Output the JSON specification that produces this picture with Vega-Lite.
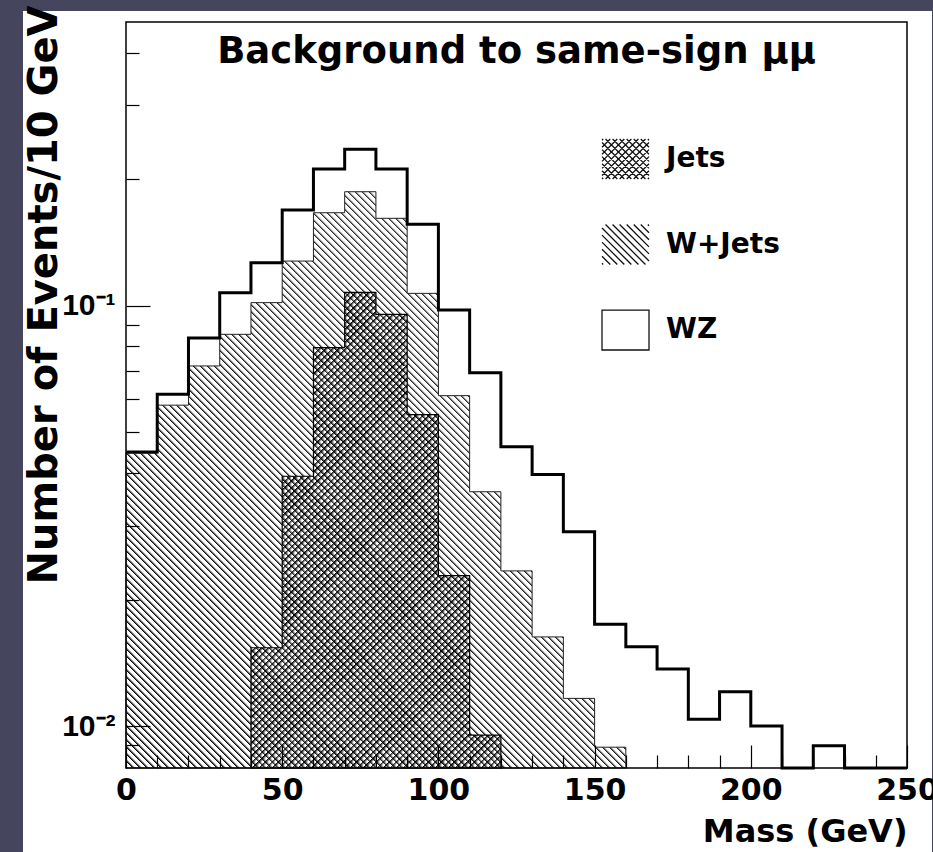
{
"$schema": "https://vega.github.io/schema/vega-lite/v6.json",
"width": 909, "height": 841,
"autosize": {"type": "none"},
"padding": {"left": 23, "top": 11, "right": 1, "bottom": 0},
"background": "#45455d",
"view": {"fill": "#ffffff", "stroke": null},
"config": {"font": "DejaVu Sans"},
"title": {"text": "Background to same-sign μμ", "font": "DejaVu Sans", "fontSize": 37, "fontWeight": "bold", "color": "#000000", "anchor": "middle", "frame": "group", "dx": 39, "offset": -95, "baseline": "alphabetic"},
"resolve": {"axis": {"x": "independent"}},
"data": {"values": [
{"lo":0,"hi":10,"jets":null,"jets_wjets":0.0446,"total":0.0449},
{"lo":10,"hi":20,"jets":null,"jets_wjets":0.058,"total":0.0616},
{"lo":20,"hi":30,"jets":null,"jets_wjets":0.0719,"total":0.0838},
{"lo":30,"hi":40,"jets":null,"jets_wjets":0.0855,"total":0.1074},
{"lo":40,"hi":50,"jets":0.01536,"jets_wjets":0.1017,"total":0.1265},
{"lo":50,"hi":60,"jets":0.0393,"jets_wjets":0.1277,"total":0.1689},
{"lo":60,"hi":70,"jets":0.0795,"jets_wjets":0.1664,"total":0.2115},
{"lo":70,"hi":80,"jets":0.1076,"jets_wjets":0.1867,"total":0.2356},
{"lo":80,"hi":90,"jets":0.0954,"jets_wjets":0.1614,"total":0.2115},
{"lo":90,"hi":100,"jets":0.0551,"jets_wjets":0.107,"total":0.1562},
{"lo":100,"hi":110,"jets":0.0228,"jets_wjets":0.0611,"total":0.0977},
{"lo":110,"hi":120,"jets":0.00952,"jets_wjets":0.0361,"total":0.0693},
{"lo":120,"hi":130,"jets":null,"jets_wjets":0.0234,"total":0.0462},
{"lo":130,"hi":140,"jets":null,"jets_wjets":0.0163,"total":0.0397},
{"lo":140,"hi":150,"jets":null,"jets_wjets":0.01164,"total":0.029},
{"lo":150,"hi":160,"jets":null,"jets_wjets":0.00891,"total":0.01746},
{"lo":160,"hi":170,"jets":null,"jets_wjets":null,"total":0.01544},
{"lo":170,"hi":180,"jets":null,"jets_wjets":null,"total":0.01367},
{"lo":180,"hi":190,"jets":null,"jets_wjets":null,"total":0.01039},
{"lo":190,"hi":200,"jets":null,"jets_wjets":null,"total":0.01207},
{"lo":200,"hi":210,"jets":null,"jets_wjets":null,"total":0.01},
{"lo":210,"hi":220,"jets":null,"jets_wjets":null,"total":0},
{"lo":220,"hi":230,"jets":null,"jets_wjets":null,"total":0.00898},
{"lo":230,"hi":240,"jets":null,"jets_wjets":null,"total":0},
{"lo":240,"hi":250,"jets":null,"jets_wjets":null,"total":0}
]},
"layer": [
{
"transform": [{"filter": "datum.jets_wjets != null"}, {"fold": ["lo", "hi"], "as": ["edge", "mass"]}],
"mark": {"type": "area", "interpolate": "linear", "stroke": "#222222", "strokeWidth": 1, "fill": {"gradient": "linear", "x1": 0, "y1": 1, "x2": 0.9243, "y2": -0.0656, "stops": [
{"offset":0,"color":"#000"},{"offset":0.0028,"color":"#fff"},{"offset":0.0065,"color":"#fff"},
{"offset":0.0065,"color":"#000"},{"offset":0.0093,"color":"#fff"},{"offset":0.013,"color":"#fff"},
{"offset":0.013,"color":"#000"},{"offset":0.0158,"color":"#fff"},{"offset":0.0195,"color":"#fff"},
{"offset":0.0195,"color":"#000"},{"offset":0.0223,"color":"#fff"},{"offset":0.026,"color":"#fff"},
{"offset":0.026,"color":"#000"},{"offset":0.0288,"color":"#fff"},{"offset":0.0325,"color":"#fff"},
{"offset":0.0325,"color":"#000"},{"offset":0.0353,"color":"#fff"},{"offset":0.039,"color":"#fff"},
{"offset":0.039,"color":"#000"},{"offset":0.0418,"color":"#fff"},{"offset":0.0455,"color":"#fff"},
{"offset":0.0455,"color":"#000"},{"offset":0.0483,"color":"#fff"},{"offset":0.052,"color":"#fff"},
{"offset":0.052,"color":"#000"},{"offset":0.0548,"color":"#fff"},{"offset":0.0585,"color":"#fff"},
{"offset":0.0585,"color":"#000"},{"offset":0.0613,"color":"#fff"},{"offset":0.065,"color":"#fff"},
{"offset":0.065,"color":"#000"},{"offset":0.0678,"color":"#fff"},{"offset":0.0715,"color":"#fff"},
{"offset":0.0715,"color":"#000"},{"offset":0.0743,"color":"#fff"},{"offset":0.078,"color":"#fff"},
{"offset":0.078,"color":"#000"},{"offset":0.0808,"color":"#fff"},{"offset":0.0845,"color":"#fff"},
{"offset":0.0845,"color":"#000"},{"offset":0.0873,"color":"#fff"},{"offset":0.091,"color":"#fff"},
{"offset":0.091,"color":"#000"},{"offset":0.0938,"color":"#fff"},{"offset":0.0975,"color":"#fff"},
{"offset":0.0975,"color":"#000"},{"offset":0.1003,"color":"#fff"},{"offset":0.104,"color":"#fff"},
{"offset":0.104,"color":"#000"},{"offset":0.1068,"color":"#fff"},{"offset":0.1105,"color":"#fff"},
{"offset":0.1105,"color":"#000"},{"offset":0.1133,"color":"#fff"},{"offset":0.117,"color":"#fff"},
{"offset":0.117,"color":"#000"},{"offset":0.1198,"color":"#fff"},{"offset":0.1235,"color":"#fff"},
{"offset":0.1235,"color":"#000"},{"offset":0.1263,"color":"#fff"},{"offset":0.13,"color":"#fff"},
{"offset":0.13,"color":"#000"},{"offset":0.1328,"color":"#fff"},{"offset":0.1365,"color":"#fff"},
{"offset":0.1365,"color":"#000"},{"offset":0.1393,"color":"#fff"},{"offset":0.143,"color":"#fff"},
{"offset":0.143,"color":"#000"},{"offset":0.1458,"color":"#fff"},{"offset":0.1495,"color":"#fff"},
{"offset":0.1495,"color":"#000"},{"offset":0.1523,"color":"#fff"},{"offset":0.156,"color":"#fff"},
{"offset":0.156,"color":"#000"},{"offset":0.1588,"color":"#fff"},{"offset":0.1625,"color":"#fff"},
{"offset":0.1625,"color":"#000"},{"offset":0.1653,"color":"#fff"},{"offset":0.169,"color":"#fff"},
{"offset":0.169,"color":"#000"},{"offset":0.1718,"color":"#fff"},{"offset":0.1755,"color":"#fff"},
{"offset":0.1755,"color":"#000"},{"offset":0.1783,"color":"#fff"},{"offset":0.182,"color":"#fff"},
{"offset":0.182,"color":"#000"},{"offset":0.1848,"color":"#fff"},{"offset":0.1885,"color":"#fff"},
{"offset":0.1885,"color":"#000"},{"offset":0.1913,"color":"#fff"},{"offset":0.195,"color":"#fff"},
{"offset":0.195,"color":"#000"},{"offset":0.1978,"color":"#fff"},{"offset":0.2015,"color":"#fff"},
{"offset":0.2015,"color":"#000"},{"offset":0.2043,"color":"#fff"},{"offset":0.208,"color":"#fff"},
{"offset":0.208,"color":"#000"},{"offset":0.2108,"color":"#fff"},{"offset":0.2145,"color":"#fff"},
{"offset":0.2145,"color":"#000"},{"offset":0.2173,"color":"#fff"},{"offset":0.221,"color":"#fff"},
{"offset":0.221,"color":"#000"},{"offset":0.2238,"color":"#fff"},{"offset":0.2275,"color":"#fff"},
{"offset":0.2275,"color":"#000"},{"offset":0.2303,"color":"#fff"},{"offset":0.234,"color":"#fff"},
{"offset":0.234,"color":"#000"},{"offset":0.2368,"color":"#fff"},{"offset":0.2405,"color":"#fff"},
{"offset":0.2405,"color":"#000"},{"offset":0.2433,"color":"#fff"},{"offset":0.247,"color":"#fff"},
{"offset":0.247,"color":"#000"},{"offset":0.2498,"color":"#fff"},{"offset":0.2535,"color":"#fff"},
{"offset":0.2535,"color":"#000"},{"offset":0.2563,"color":"#fff"},{"offset":0.26,"color":"#fff"},
{"offset":0.26,"color":"#000"},{"offset":0.2628,"color":"#fff"},{"offset":0.2665,"color":"#fff"},
{"offset":0.2665,"color":"#000"},{"offset":0.2693,"color":"#fff"},{"offset":0.273,"color":"#fff"},
{"offset":0.273,"color":"#000"},{"offset":0.2758,"color":"#fff"},{"offset":0.2795,"color":"#fff"},
{"offset":0.2795,"color":"#000"},{"offset":0.2823,"color":"#fff"},{"offset":0.286,"color":"#fff"},
{"offset":0.286,"color":"#000"},{"offset":0.2888,"color":"#fff"},{"offset":0.2925,"color":"#fff"},
{"offset":0.2925,"color":"#000"},{"offset":0.2953,"color":"#fff"},{"offset":0.299,"color":"#fff"},
{"offset":0.299,"color":"#000"},{"offset":0.3018,"color":"#fff"},{"offset":0.3055,"color":"#fff"},
{"offset":0.3055,"color":"#000"},{"offset":0.3083,"color":"#fff"},{"offset":0.312,"color":"#fff"},
{"offset":0.312,"color":"#000"},{"offset":0.3148,"color":"#fff"},{"offset":0.3185,"color":"#fff"},
{"offset":0.3185,"color":"#000"},{"offset":0.3213,"color":"#fff"},{"offset":0.325,"color":"#fff"},
{"offset":0.325,"color":"#000"},{"offset":0.3278,"color":"#fff"},{"offset":0.3315,"color":"#fff"},
{"offset":0.3315,"color":"#000"},{"offset":0.3343,"color":"#fff"},{"offset":0.338,"color":"#fff"},
{"offset":0.338,"color":"#000"},{"offset":0.3408,"color":"#fff"},{"offset":0.3445,"color":"#fff"},
{"offset":0.3445,"color":"#000"},{"offset":0.3473,"color":"#fff"},{"offset":0.351,"color":"#fff"},
{"offset":0.351,"color":"#000"},{"offset":0.3538,"color":"#fff"},{"offset":0.3575,"color":"#fff"},
{"offset":0.3575,"color":"#000"},{"offset":0.3603,"color":"#fff"},{"offset":0.364,"color":"#fff"},
{"offset":0.364,"color":"#000"},{"offset":0.3668,"color":"#fff"},{"offset":0.3705,"color":"#fff"},
{"offset":0.3705,"color":"#000"},{"offset":0.3733,"color":"#fff"},{"offset":0.377,"color":"#fff"},
{"offset":0.377,"color":"#000"},{"offset":0.3798,"color":"#fff"},{"offset":0.3835,"color":"#fff"},
{"offset":0.3835,"color":"#000"},{"offset":0.3863,"color":"#fff"},{"offset":0.39,"color":"#fff"},
{"offset":0.39,"color":"#000"},{"offset":0.3928,"color":"#fff"},{"offset":0.3965,"color":"#fff"},
{"offset":0.3965,"color":"#000"},{"offset":0.3993,"color":"#fff"},{"offset":0.403,"color":"#fff"},
{"offset":0.403,"color":"#000"},{"offset":0.4058,"color":"#fff"},{"offset":0.4095,"color":"#fff"},
{"offset":0.4095,"color":"#000"},{"offset":0.4123,"color":"#fff"},{"offset":0.416,"color":"#fff"},
{"offset":0.416,"color":"#000"},{"offset":0.4188,"color":"#fff"},{"offset":0.4225,"color":"#fff"},
{"offset":0.4225,"color":"#000"},{"offset":0.4253,"color":"#fff"},{"offset":0.429,"color":"#fff"},
{"offset":0.429,"color":"#000"},{"offset":0.4318,"color":"#fff"},{"offset":0.4355,"color":"#fff"},
{"offset":0.4355,"color":"#000"},{"offset":0.4383,"color":"#fff"},{"offset":0.442,"color":"#fff"},
{"offset":0.442,"color":"#000"},{"offset":0.4448,"color":"#fff"},{"offset":0.4485,"color":"#fff"},
{"offset":0.4485,"color":"#000"},{"offset":0.4513,"color":"#fff"},{"offset":0.455,"color":"#fff"},
{"offset":0.455,"color":"#000"},{"offset":0.4578,"color":"#fff"},{"offset":0.4615,"color":"#fff"},
{"offset":0.4615,"color":"#000"},{"offset":0.4643,"color":"#fff"},{"offset":0.468,"color":"#fff"},
{"offset":0.468,"color":"#000"},{"offset":0.4708,"color":"#fff"},{"offset":0.4745,"color":"#fff"},
{"offset":0.4745,"color":"#000"},{"offset":0.4773,"color":"#fff"},{"offset":0.481,"color":"#fff"},
{"offset":0.481,"color":"#000"},{"offset":0.4838,"color":"#fff"},{"offset":0.4875,"color":"#fff"},
{"offset":0.4875,"color":"#000"},{"offset":0.4903,"color":"#fff"},{"offset":0.494,"color":"#fff"},
{"offset":0.494,"color":"#000"},{"offset":0.4968,"color":"#fff"},{"offset":0.5005,"color":"#fff"},
{"offset":0.5005,"color":"#000"},{"offset":0.5033,"color":"#fff"},{"offset":0.507,"color":"#fff"},
{"offset":0.507,"color":"#000"},{"offset":0.5098,"color":"#fff"},{"offset":0.5135,"color":"#fff"},
{"offset":0.5135,"color":"#000"},{"offset":0.5163,"color":"#fff"},{"offset":0.52,"color":"#fff"},
{"offset":0.52,"color":"#000"},{"offset":0.5228,"color":"#fff"},{"offset":0.5265,"color":"#fff"},
{"offset":0.5265,"color":"#000"},{"offset":0.5293,"color":"#fff"},{"offset":0.533,"color":"#fff"},
{"offset":0.533,"color":"#000"},{"offset":0.5358,"color":"#fff"},{"offset":0.5395,"color":"#fff"},
{"offset":0.5395,"color":"#000"},{"offset":0.5423,"color":"#fff"},{"offset":0.546,"color":"#fff"},
{"offset":0.546,"color":"#000"},{"offset":0.5488,"color":"#fff"},{"offset":0.5525,"color":"#fff"},
{"offset":0.5525,"color":"#000"},{"offset":0.5553,"color":"#fff"},{"offset":0.559,"color":"#fff"},
{"offset":0.559,"color":"#000"},{"offset":0.5618,"color":"#fff"},{"offset":0.5655,"color":"#fff"},
{"offset":0.5655,"color":"#000"},{"offset":0.5683,"color":"#fff"},{"offset":0.572,"color":"#fff"},
{"offset":0.572,"color":"#000"},{"offset":0.5748,"color":"#fff"},{"offset":0.5785,"color":"#fff"},
{"offset":0.5785,"color":"#000"},{"offset":0.5813,"color":"#fff"},{"offset":0.585,"color":"#fff"},
{"offset":0.585,"color":"#000"},{"offset":0.5878,"color":"#fff"},{"offset":0.5915,"color":"#fff"},
{"offset":0.5915,"color":"#000"},{"offset":0.5943,"color":"#fff"},{"offset":0.598,"color":"#fff"},
{"offset":0.598,"color":"#000"},{"offset":0.6008,"color":"#fff"},{"offset":0.6045,"color":"#fff"},
{"offset":0.6045,"color":"#000"},{"offset":0.6073,"color":"#fff"},{"offset":0.611,"color":"#fff"},
{"offset":0.611,"color":"#000"},{"offset":0.6138,"color":"#fff"},{"offset":0.6175,"color":"#fff"},
{"offset":0.6175,"color":"#000"},{"offset":0.6203,"color":"#fff"},{"offset":0.624,"color":"#fff"},
{"offset":0.624,"color":"#000"},{"offset":0.6268,"color":"#fff"},{"offset":0.6305,"color":"#fff"},
{"offset":0.6305,"color":"#000"},{"offset":0.6333,"color":"#fff"},{"offset":0.637,"color":"#fff"},
{"offset":0.637,"color":"#000"},{"offset":0.6398,"color":"#fff"},{"offset":0.6435,"color":"#fff"},
{"offset":0.6435,"color":"#000"},{"offset":0.6463,"color":"#fff"},{"offset":0.65,"color":"#fff"},
{"offset":0.65,"color":"#000"},{"offset":0.6528,"color":"#fff"},{"offset":0.6565,"color":"#fff"},
{"offset":0.6565,"color":"#000"},{"offset":0.6593,"color":"#fff"},{"offset":0.663,"color":"#fff"},
{"offset":0.663,"color":"#000"},{"offset":0.6658,"color":"#fff"},{"offset":0.6695,"color":"#fff"},
{"offset":0.6695,"color":"#000"},{"offset":0.6723,"color":"#fff"},{"offset":0.676,"color":"#fff"},
{"offset":0.676,"color":"#000"},{"offset":0.6788,"color":"#fff"},{"offset":0.6825,"color":"#fff"},
{"offset":0.6825,"color":"#000"},{"offset":0.6853,"color":"#fff"},{"offset":0.689,"color":"#fff"},
{"offset":0.689,"color":"#000"},{"offset":0.6918,"color":"#fff"},{"offset":0.6955,"color":"#fff"},
{"offset":0.6955,"color":"#000"},{"offset":0.6983,"color":"#fff"},{"offset":0.702,"color":"#fff"},
{"offset":0.702,"color":"#000"},{"offset":0.7048,"color":"#fff"},{"offset":0.7085,"color":"#fff"},
{"offset":0.7085,"color":"#000"},{"offset":0.7113,"color":"#fff"},{"offset":0.715,"color":"#fff"},
{"offset":0.715,"color":"#000"},{"offset":0.7178,"color":"#fff"},{"offset":0.7215,"color":"#fff"},
{"offset":0.7215,"color":"#000"},{"offset":0.7243,"color":"#fff"},{"offset":0.728,"color":"#fff"},
{"offset":0.728,"color":"#000"},{"offset":0.7308,"color":"#fff"},{"offset":0.7345,"color":"#fff"},
{"offset":0.7345,"color":"#000"},{"offset":0.7373,"color":"#fff"},{"offset":0.741,"color":"#fff"},
{"offset":0.741,"color":"#000"},{"offset":0.7438,"color":"#fff"},{"offset":0.7475,"color":"#fff"},
{"offset":0.7475,"color":"#000"},{"offset":0.7503,"color":"#fff"},{"offset":0.754,"color":"#fff"},
{"offset":0.754,"color":"#000"},{"offset":0.7568,"color":"#fff"},{"offset":0.7605,"color":"#fff"},
{"offset":0.7605,"color":"#000"},{"offset":0.7633,"color":"#fff"},{"offset":0.767,"color":"#fff"},
{"offset":0.767,"color":"#000"},{"offset":0.7698,"color":"#fff"},{"offset":0.7735,"color":"#fff"},
{"offset":0.7735,"color":"#000"},{"offset":0.7763,"color":"#fff"},{"offset":0.78,"color":"#fff"},
{"offset":0.78,"color":"#000"},{"offset":0.7828,"color":"#fff"},{"offset":0.7865,"color":"#fff"},
{"offset":0.7865,"color":"#000"},{"offset":0.7893,"color":"#fff"},{"offset":0.793,"color":"#fff"},
{"offset":0.793,"color":"#000"},{"offset":0.7958,"color":"#fff"},{"offset":0.7995,"color":"#fff"},
{"offset":0.7995,"color":"#000"},{"offset":0.8023,"color":"#fff"},{"offset":0.806,"color":"#fff"},
{"offset":0.806,"color":"#000"},{"offset":0.8088,"color":"#fff"},{"offset":0.8125,"color":"#fff"},
{"offset":0.8125,"color":"#000"},{"offset":0.8153,"color":"#fff"},{"offset":0.819,"color":"#fff"},
{"offset":0.819,"color":"#000"},{"offset":0.8218,"color":"#fff"},{"offset":0.8255,"color":"#fff"},
{"offset":0.8255,"color":"#000"},{"offset":0.8283,"color":"#fff"},{"offset":0.832,"color":"#fff"},
{"offset":0.832,"color":"#000"},{"offset":0.8348,"color":"#fff"},{"offset":0.8385,"color":"#fff"},
{"offset":0.8385,"color":"#000"},{"offset":0.8413,"color":"#fff"},{"offset":0.845,"color":"#fff"},
{"offset":0.845,"color":"#000"},{"offset":0.8478,"color":"#fff"},{"offset":0.8515,"color":"#fff"},
{"offset":0.8515,"color":"#000"},{"offset":0.8543,"color":"#fff"},{"offset":0.858,"color":"#fff"},
{"offset":0.858,"color":"#000"},{"offset":0.8608,"color":"#fff"},{"offset":0.8645,"color":"#fff"},
{"offset":0.8645,"color":"#000"},{"offset":0.8673,"color":"#fff"},{"offset":0.871,"color":"#fff"},
{"offset":0.871,"color":"#000"},{"offset":0.8738,"color":"#fff"},{"offset":0.8775,"color":"#fff"},
{"offset":0.8775,"color":"#000"},{"offset":0.8803,"color":"#fff"},{"offset":0.884,"color":"#fff"},
{"offset":0.884,"color":"#000"},{"offset":0.8868,"color":"#fff"},{"offset":0.8905,"color":"#fff"},
{"offset":0.8905,"color":"#000"},{"offset":0.8933,"color":"#fff"},{"offset":0.897,"color":"#fff"},
{"offset":0.897,"color":"#000"},{"offset":0.8998,"color":"#fff"},{"offset":0.9035,"color":"#fff"},
{"offset":0.9035,"color":"#000"},{"offset":0.9063,"color":"#fff"},{"offset":0.91,"color":"#fff"},
{"offset":0.91,"color":"#000"},{"offset":0.9128,"color":"#fff"},{"offset":0.9165,"color":"#fff"},
{"offset":0.9165,"color":"#000"},{"offset":0.9193,"color":"#fff"},{"offset":0.923,"color":"#fff"},
{"offset":0.923,"color":"#000"},{"offset":0.9258,"color":"#fff"},{"offset":0.9295,"color":"#fff"},
{"offset":0.9295,"color":"#000"},{"offset":0.9323,"color":"#fff"},{"offset":0.936,"color":"#fff"},
{"offset":0.936,"color":"#000"},{"offset":0.9388,"color":"#fff"},{"offset":0.9425,"color":"#fff"},
{"offset":0.9425,"color":"#000"},{"offset":0.9453,"color":"#fff"},{"offset":0.949,"color":"#fff"},
{"offset":0.949,"color":"#000"},{"offset":0.9518,"color":"#fff"},{"offset":0.9555,"color":"#fff"},
{"offset":0.9555,"color":"#000"},{"offset":0.9583,"color":"#fff"},{"offset":0.962,"color":"#fff"},
{"offset":0.962,"color":"#000"},{"offset":0.9648,"color":"#fff"},{"offset":0.9685,"color":"#fff"},
{"offset":0.9685,"color":"#000"},{"offset":0.9713,"color":"#fff"},{"offset":0.975,"color":"#fff"},
{"offset":0.975,"color":"#000"},{"offset":0.9778,"color":"#fff"},{"offset":0.9815,"color":"#fff"},
{"offset":0.9815,"color":"#000"},{"offset":0.9843,"color":"#fff"},{"offset":0.988,"color":"#fff"},
{"offset":0.988,"color":"#000"},{"offset":0.9908,"color":"#fff"},{"offset":0.9945,"color":"#fff"},
{"offset":0.9945,"color":"#000"},{"offset":0.9973,"color":"#fff"},{"offset":1,"color":"#fff"}
]}},
"encoding": {
"x": {"field": "mass", "type": "quantitative", "scale": {"type": "linear", "domain": [0, 250], "range": [103, 884], "nice": false, "zero": false},
 "axis": {"orient": "bottom", "values": [0,50,100,150,200,250], "tickSize": -23, "tickColor": "#000000", "tickWidth": 1.2, "domain": false, "grid": false, "offset": -84, "zindex": 1, "labelFont": "DejaVu Sans", "labelFontSize": 30, "labelFontWeight": "bold", "labelColor": "#000000", "labelPadding": 30, "labelFlush": false, "labelOverlap": false, "labelBound": false, "title": "Mass (GeV)", "titleFont": "DejaVu Sans", "titleFontSize": 32, "titleFontWeight": "bold", "titleColor": "#000000", "titleAnchor": "end", "titlePadding": 11}},
"y": {"field": "jets_wjets", "type": "quantitative", "scale": {"type": "log", "domain": [0.00795, 0.473], "range": [757, 11], "nice": false, "clamp": true},
 "axis": {"values": [0.009,0.01,0.02,0.03,0.04,0.05,0.06,0.07,0.08,0.09,0.1,0.2,0.3,0.4], "labelExpr": "datum.value == 0.1 ? '10⁻¹' : datum.value == 0.01 ? '10⁻²' : ''", "tickSize": {"condition": {"test": "datum.value == 0.1 || datum.value == 0.01", "value": -24}, "value": -13}, "tickColor": "#000000", "tickWidth": 1.2, "domain": false, "grid": false, "offset": -103, "zindex": 1, "labelFont": "Liberation Sans", "labelFontSize": 30, "labelFontWeight": "bold", "labelColor": "#000000", "labelPadding": 35, "labelOverlap": false, "labelFlush": false, "title": "Number of Events/10 GeV", "titleFont": "DejaVu Sans", "titleFontSize": 40, "titleFontWeight": "bold", "titleColor": "#000000", "titleAnchor": "end", "titleX": -62, "titleY": -6}},
"y2": {"datum": 0.00795}
}
},
{
"transform": [{"filter": "datum.jets != null"}, {"fold": ["lo", "hi"], "as": ["edge", "mass"]}],
"mark": {"type": "area", "interpolate": "linear", "fill": {"gradient": "linear", "x1": 0, "y1": 1, "x2": 0.6279, "y2": -0.1954, "stops": [
{"offset":0,"color":"#000"},{"offset":0.0055,"color":"#fff"},{"offset":0.009,"color":"#fff"},
{"offset":0.009,"color":"#000"},{"offset":0.0145,"color":"#fff"},{"offset":0.018,"color":"#fff"},
{"offset":0.018,"color":"#000"},{"offset":0.0235,"color":"#fff"},{"offset":0.027,"color":"#fff"},
{"offset":0.027,"color":"#000"},{"offset":0.0325,"color":"#fff"},{"offset":0.036,"color":"#fff"},
{"offset":0.036,"color":"#000"},{"offset":0.0415,"color":"#fff"},{"offset":0.045,"color":"#fff"},
{"offset":0.045,"color":"#000"},{"offset":0.0505,"color":"#fff"},{"offset":0.054,"color":"#fff"},
{"offset":0.054,"color":"#000"},{"offset":0.0595,"color":"#fff"},{"offset":0.063,"color":"#fff"},
{"offset":0.063,"color":"#000"},{"offset":0.0685,"color":"#fff"},{"offset":0.072,"color":"#fff"},
{"offset":0.072,"color":"#000"},{"offset":0.0775,"color":"#fff"},{"offset":0.081,"color":"#fff"},
{"offset":0.081,"color":"#000"},{"offset":0.0865,"color":"#fff"},{"offset":0.09,"color":"#fff"},
{"offset":0.09,"color":"#000"},{"offset":0.0955,"color":"#fff"},{"offset":0.099,"color":"#fff"},
{"offset":0.099,"color":"#000"},{"offset":0.1045,"color":"#fff"},{"offset":0.108,"color":"#fff"},
{"offset":0.108,"color":"#000"},{"offset":0.1135,"color":"#fff"},{"offset":0.117,"color":"#fff"},
{"offset":0.117,"color":"#000"},{"offset":0.1225,"color":"#fff"},{"offset":0.126,"color":"#fff"},
{"offset":0.126,"color":"#000"},{"offset":0.1315,"color":"#fff"},{"offset":0.135,"color":"#fff"},
{"offset":0.135,"color":"#000"},{"offset":0.1405,"color":"#fff"},{"offset":0.144,"color":"#fff"},
{"offset":0.144,"color":"#000"},{"offset":0.1495,"color":"#fff"},{"offset":0.153,"color":"#fff"},
{"offset":0.153,"color":"#000"},{"offset":0.1585,"color":"#fff"},{"offset":0.162,"color":"#fff"},
{"offset":0.162,"color":"#000"},{"offset":0.1675,"color":"#fff"},{"offset":0.171,"color":"#fff"},
{"offset":0.171,"color":"#000"},{"offset":0.1765,"color":"#fff"},{"offset":0.18,"color":"#fff"},
{"offset":0.18,"color":"#000"},{"offset":0.1855,"color":"#fff"},{"offset":0.189,"color":"#fff"},
{"offset":0.189,"color":"#000"},{"offset":0.1945,"color":"#fff"},{"offset":0.198,"color":"#fff"},
{"offset":0.198,"color":"#000"},{"offset":0.2035,"color":"#fff"},{"offset":0.207,"color":"#fff"},
{"offset":0.207,"color":"#000"},{"offset":0.2125,"color":"#fff"},{"offset":0.216,"color":"#fff"},
{"offset":0.216,"color":"#000"},{"offset":0.2215,"color":"#fff"},{"offset":0.225,"color":"#fff"},
{"offset":0.225,"color":"#000"},{"offset":0.2305,"color":"#fff"},{"offset":0.234,"color":"#fff"},
{"offset":0.234,"color":"#000"},{"offset":0.2395,"color":"#fff"},{"offset":0.243,"color":"#fff"},
{"offset":0.243,"color":"#000"},{"offset":0.2485,"color":"#fff"},{"offset":0.252,"color":"#fff"},
{"offset":0.252,"color":"#000"},{"offset":0.2575,"color":"#fff"},{"offset":0.261,"color":"#fff"},
{"offset":0.261,"color":"#000"},{"offset":0.2665,"color":"#fff"},{"offset":0.27,"color":"#fff"},
{"offset":0.27,"color":"#000"},{"offset":0.2755,"color":"#fff"},{"offset":0.279,"color":"#fff"},
{"offset":0.279,"color":"#000"},{"offset":0.2845,"color":"#fff"},{"offset":0.288,"color":"#fff"},
{"offset":0.288,"color":"#000"},{"offset":0.2935,"color":"#fff"},{"offset":0.297,"color":"#fff"},
{"offset":0.297,"color":"#000"},{"offset":0.3025,"color":"#fff"},{"offset":0.306,"color":"#fff"},
{"offset":0.306,"color":"#000"},{"offset":0.3115,"color":"#fff"},{"offset":0.315,"color":"#fff"},
{"offset":0.315,"color":"#000"},{"offset":0.3205,"color":"#fff"},{"offset":0.324,"color":"#fff"},
{"offset":0.324,"color":"#000"},{"offset":0.3295,"color":"#fff"},{"offset":0.333,"color":"#fff"},
{"offset":0.333,"color":"#000"},{"offset":0.3385,"color":"#fff"},{"offset":0.342,"color":"#fff"},
{"offset":0.342,"color":"#000"},{"offset":0.3475,"color":"#fff"},{"offset":0.351,"color":"#fff"},
{"offset":0.351,"color":"#000"},{"offset":0.3565,"color":"#fff"},{"offset":0.36,"color":"#fff"},
{"offset":0.36,"color":"#000"},{"offset":0.3655,"color":"#fff"},{"offset":0.369,"color":"#fff"},
{"offset":0.369,"color":"#000"},{"offset":0.3745,"color":"#fff"},{"offset":0.378,"color":"#fff"},
{"offset":0.378,"color":"#000"},{"offset":0.3835,"color":"#fff"},{"offset":0.387,"color":"#fff"},
{"offset":0.387,"color":"#000"},{"offset":0.3925,"color":"#fff"},{"offset":0.396,"color":"#fff"},
{"offset":0.396,"color":"#000"},{"offset":0.4015,"color":"#fff"},{"offset":0.405,"color":"#fff"},
{"offset":0.405,"color":"#000"},{"offset":0.4105,"color":"#fff"},{"offset":0.414,"color":"#fff"},
{"offset":0.414,"color":"#000"},{"offset":0.4195,"color":"#fff"},{"offset":0.423,"color":"#fff"},
{"offset":0.423,"color":"#000"},{"offset":0.4285,"color":"#fff"},{"offset":0.432,"color":"#fff"},
{"offset":0.432,"color":"#000"},{"offset":0.4375,"color":"#fff"},{"offset":0.441,"color":"#fff"},
{"offset":0.441,"color":"#000"},{"offset":0.4465,"color":"#fff"},{"offset":0.45,"color":"#fff"},
{"offset":0.45,"color":"#000"},{"offset":0.4555,"color":"#fff"},{"offset":0.459,"color":"#fff"},
{"offset":0.459,"color":"#000"},{"offset":0.4645,"color":"#fff"},{"offset":0.468,"color":"#fff"},
{"offset":0.468,"color":"#000"},{"offset":0.4735,"color":"#fff"},{"offset":0.477,"color":"#fff"},
{"offset":0.477,"color":"#000"},{"offset":0.4825,"color":"#fff"},{"offset":0.486,"color":"#fff"},
{"offset":0.486,"color":"#000"},{"offset":0.4915,"color":"#fff"},{"offset":0.495,"color":"#fff"},
{"offset":0.495,"color":"#000"},{"offset":0.5005,"color":"#fff"},{"offset":0.504,"color":"#fff"},
{"offset":0.504,"color":"#000"},{"offset":0.5095,"color":"#fff"},{"offset":0.513,"color":"#fff"},
{"offset":0.513,"color":"#000"},{"offset":0.5185,"color":"#fff"},{"offset":0.522,"color":"#fff"},
{"offset":0.522,"color":"#000"},{"offset":0.5275,"color":"#fff"},{"offset":0.531,"color":"#fff"},
{"offset":0.531,"color":"#000"},{"offset":0.5365,"color":"#fff"},{"offset":0.54,"color":"#fff"},
{"offset":0.54,"color":"#000"},{"offset":0.5455,"color":"#fff"},{"offset":0.549,"color":"#fff"},
{"offset":0.549,"color":"#000"},{"offset":0.5545,"color":"#fff"},{"offset":0.558,"color":"#fff"},
{"offset":0.558,"color":"#000"},{"offset":0.5635,"color":"#fff"},{"offset":0.567,"color":"#fff"},
{"offset":0.567,"color":"#000"},{"offset":0.5725,"color":"#fff"},{"offset":0.576,"color":"#fff"},
{"offset":0.576,"color":"#000"},{"offset":0.5815,"color":"#fff"},{"offset":0.585,"color":"#fff"},
{"offset":0.585,"color":"#000"},{"offset":0.5905,"color":"#fff"},{"offset":0.594,"color":"#fff"},
{"offset":0.594,"color":"#000"},{"offset":0.5995,"color":"#fff"},{"offset":0.603,"color":"#fff"},
{"offset":0.603,"color":"#000"},{"offset":0.6085,"color":"#fff"},{"offset":0.612,"color":"#fff"},
{"offset":0.612,"color":"#000"},{"offset":0.6175,"color":"#fff"},{"offset":0.621,"color":"#fff"},
{"offset":0.621,"color":"#000"},{"offset":0.6265,"color":"#fff"},{"offset":0.63,"color":"#fff"},
{"offset":0.63,"color":"#000"},{"offset":0.6355,"color":"#fff"},{"offset":0.639,"color":"#fff"},
{"offset":0.639,"color":"#000"},{"offset":0.6445,"color":"#fff"},{"offset":0.648,"color":"#fff"},
{"offset":0.648,"color":"#000"},{"offset":0.6535,"color":"#fff"},{"offset":0.657,"color":"#fff"},
{"offset":0.657,"color":"#000"},{"offset":0.6625,"color":"#fff"},{"offset":0.666,"color":"#fff"},
{"offset":0.666,"color":"#000"},{"offset":0.6715,"color":"#fff"},{"offset":0.675,"color":"#fff"},
{"offset":0.675,"color":"#000"},{"offset":0.6805,"color":"#fff"},{"offset":0.684,"color":"#fff"},
{"offset":0.684,"color":"#000"},{"offset":0.6895,"color":"#fff"},{"offset":0.693,"color":"#fff"},
{"offset":0.693,"color":"#000"},{"offset":0.6985,"color":"#fff"},{"offset":0.702,"color":"#fff"},
{"offset":0.702,"color":"#000"},{"offset":0.7075,"color":"#fff"},{"offset":0.711,"color":"#fff"},
{"offset":0.711,"color":"#000"},{"offset":0.7165,"color":"#fff"},{"offset":0.72,"color":"#fff"},
{"offset":0.72,"color":"#000"},{"offset":0.7255,"color":"#fff"},{"offset":0.729,"color":"#fff"},
{"offset":0.729,"color":"#000"},{"offset":0.7345,"color":"#fff"},{"offset":0.738,"color":"#fff"},
{"offset":0.738,"color":"#000"},{"offset":0.7435,"color":"#fff"},{"offset":0.747,"color":"#fff"},
{"offset":0.747,"color":"#000"},{"offset":0.7525,"color":"#fff"},{"offset":0.756,"color":"#fff"},
{"offset":0.756,"color":"#000"},{"offset":0.7615,"color":"#fff"},{"offset":0.765,"color":"#fff"},
{"offset":0.765,"color":"#000"},{"offset":0.7705,"color":"#fff"},{"offset":0.774,"color":"#fff"},
{"offset":0.774,"color":"#000"},{"offset":0.7795,"color":"#fff"},{"offset":0.783,"color":"#fff"},
{"offset":0.783,"color":"#000"},{"offset":0.7885,"color":"#fff"},{"offset":0.792,"color":"#fff"},
{"offset":0.792,"color":"#000"},{"offset":0.7975,"color":"#fff"},{"offset":0.801,"color":"#fff"},
{"offset":0.801,"color":"#000"},{"offset":0.8065,"color":"#fff"},{"offset":0.81,"color":"#fff"},
{"offset":0.81,"color":"#000"},{"offset":0.8155,"color":"#fff"},{"offset":0.819,"color":"#fff"},
{"offset":0.819,"color":"#000"},{"offset":0.8245,"color":"#fff"},{"offset":0.828,"color":"#fff"},
{"offset":0.828,"color":"#000"},{"offset":0.8335,"color":"#fff"},{"offset":0.837,"color":"#fff"},
{"offset":0.837,"color":"#000"},{"offset":0.8425,"color":"#fff"},{"offset":0.846,"color":"#fff"},
{"offset":0.846,"color":"#000"},{"offset":0.8515,"color":"#fff"},{"offset":0.855,"color":"#fff"},
{"offset":0.855,"color":"#000"},{"offset":0.8605,"color":"#fff"},{"offset":0.864,"color":"#fff"},
{"offset":0.864,"color":"#000"},{"offset":0.8695,"color":"#fff"},{"offset":0.873,"color":"#fff"},
{"offset":0.873,"color":"#000"},{"offset":0.8785,"color":"#fff"},{"offset":0.882,"color":"#fff"},
{"offset":0.882,"color":"#000"},{"offset":0.8875,"color":"#fff"},{"offset":0.891,"color":"#fff"},
{"offset":0.891,"color":"#000"},{"offset":0.8965,"color":"#fff"},{"offset":0.9,"color":"#fff"},
{"offset":0.9,"color":"#000"},{"offset":0.9055,"color":"#fff"},{"offset":0.909,"color":"#fff"},
{"offset":0.909,"color":"#000"},{"offset":0.9145,"color":"#fff"},{"offset":0.918,"color":"#fff"},
{"offset":0.918,"color":"#000"},{"offset":0.9235,"color":"#fff"},{"offset":0.927,"color":"#fff"},
{"offset":0.927,"color":"#000"},{"offset":0.9325,"color":"#fff"},{"offset":0.936,"color":"#fff"},
{"offset":0.936,"color":"#000"},{"offset":0.9415,"color":"#fff"},{"offset":0.945,"color":"#fff"},
{"offset":0.945,"color":"#000"},{"offset":0.9505,"color":"#fff"},{"offset":0.954,"color":"#fff"},
{"offset":0.954,"color":"#000"},{"offset":0.9595,"color":"#fff"},{"offset":0.963,"color":"#fff"},
{"offset":0.963,"color":"#000"},{"offset":0.9685,"color":"#fff"},{"offset":0.972,"color":"#fff"},
{"offset":0.972,"color":"#000"},{"offset":0.9775,"color":"#fff"},{"offset":0.981,"color":"#fff"},
{"offset":0.981,"color":"#000"},{"offset":0.9865,"color":"#fff"},{"offset":0.99,"color":"#fff"},
{"offset":0.99,"color":"#000"},{"offset":0.9955,"color":"#fff"},{"offset":1,"color":"#fff"}
]}},
"encoding": {
"x": {"field": "mass", "type": "quantitative", "scale": {"type": "linear", "domain": [0, 250], "range": [103, 884], "nice": false, "zero": false}, "axis": null},
"y": {"field": "jets", "type": "quantitative", "scale": {"type": "log", "domain": [0.00795, 0.473], "range": [757, 11], "nice": false, "clamp": true}},
"y2": {"datum": 0.00795}
}
},
{
"transform": [{"filter": "datum.jets != null"}, {"fold": ["lo", "hi"], "as": ["edge", "mass"]}],
"mark": {"type": "area", "interpolate": "linear", "stroke": "#000000", "strokeWidth": 1.2, "fill": {"gradient": "linear", "x1": 0, "y1": 0, "x2": 0.6279, "y2": 1.1954, "stops": [
{"offset":0,"color":"#000"},{"offset":0.0055,"color":"transparent"},{"offset":0.009,"color":"transparent"},
{"offset":0.009,"color":"#000"},{"offset":0.0145,"color":"transparent"},{"offset":0.018,"color":"transparent"},
{"offset":0.018,"color":"#000"},{"offset":0.0235,"color":"transparent"},{"offset":0.027,"color":"transparent"},
{"offset":0.027,"color":"#000"},{"offset":0.0325,"color":"transparent"},{"offset":0.036,"color":"transparent"},
{"offset":0.036,"color":"#000"},{"offset":0.0415,"color":"transparent"},{"offset":0.045,"color":"transparent"},
{"offset":0.045,"color":"#000"},{"offset":0.0505,"color":"transparent"},{"offset":0.054,"color":"transparent"},
{"offset":0.054,"color":"#000"},{"offset":0.0595,"color":"transparent"},{"offset":0.063,"color":"transparent"},
{"offset":0.063,"color":"#000"},{"offset":0.0685,"color":"transparent"},{"offset":0.072,"color":"transparent"},
{"offset":0.072,"color":"#000"},{"offset":0.0775,"color":"transparent"},{"offset":0.081,"color":"transparent"},
{"offset":0.081,"color":"#000"},{"offset":0.0865,"color":"transparent"},{"offset":0.09,"color":"transparent"},
{"offset":0.09,"color":"#000"},{"offset":0.0955,"color":"transparent"},{"offset":0.099,"color":"transparent"},
{"offset":0.099,"color":"#000"},{"offset":0.1045,"color":"transparent"},{"offset":0.108,"color":"transparent"},
{"offset":0.108,"color":"#000"},{"offset":0.1135,"color":"transparent"},{"offset":0.117,"color":"transparent"},
{"offset":0.117,"color":"#000"},{"offset":0.1225,"color":"transparent"},{"offset":0.126,"color":"transparent"},
{"offset":0.126,"color":"#000"},{"offset":0.1315,"color":"transparent"},{"offset":0.135,"color":"transparent"},
{"offset":0.135,"color":"#000"},{"offset":0.1405,"color":"transparent"},{"offset":0.144,"color":"transparent"},
{"offset":0.144,"color":"#000"},{"offset":0.1495,"color":"transparent"},{"offset":0.153,"color":"transparent"},
{"offset":0.153,"color":"#000"},{"offset":0.1585,"color":"transparent"},{"offset":0.162,"color":"transparent"},
{"offset":0.162,"color":"#000"},{"offset":0.1675,"color":"transparent"},{"offset":0.171,"color":"transparent"},
{"offset":0.171,"color":"#000"},{"offset":0.1765,"color":"transparent"},{"offset":0.18,"color":"transparent"},
{"offset":0.18,"color":"#000"},{"offset":0.1855,"color":"transparent"},{"offset":0.189,"color":"transparent"},
{"offset":0.189,"color":"#000"},{"offset":0.1945,"color":"transparent"},{"offset":0.198,"color":"transparent"},
{"offset":0.198,"color":"#000"},{"offset":0.2035,"color":"transparent"},{"offset":0.207,"color":"transparent"},
{"offset":0.207,"color":"#000"},{"offset":0.2125,"color":"transparent"},{"offset":0.216,"color":"transparent"},
{"offset":0.216,"color":"#000"},{"offset":0.2215,"color":"transparent"},{"offset":0.225,"color":"transparent"},
{"offset":0.225,"color":"#000"},{"offset":0.2305,"color":"transparent"},{"offset":0.234,"color":"transparent"},
{"offset":0.234,"color":"#000"},{"offset":0.2395,"color":"transparent"},{"offset":0.243,"color":"transparent"},
{"offset":0.243,"color":"#000"},{"offset":0.2485,"color":"transparent"},{"offset":0.252,"color":"transparent"},
{"offset":0.252,"color":"#000"},{"offset":0.2575,"color":"transparent"},{"offset":0.261,"color":"transparent"},
{"offset":0.261,"color":"#000"},{"offset":0.2665,"color":"transparent"},{"offset":0.27,"color":"transparent"},
{"offset":0.27,"color":"#000"},{"offset":0.2755,"color":"transparent"},{"offset":0.279,"color":"transparent"},
{"offset":0.279,"color":"#000"},{"offset":0.2845,"color":"transparent"},{"offset":0.288,"color":"transparent"},
{"offset":0.288,"color":"#000"},{"offset":0.2935,"color":"transparent"},{"offset":0.297,"color":"transparent"},
{"offset":0.297,"color":"#000"},{"offset":0.3025,"color":"transparent"},{"offset":0.306,"color":"transparent"},
{"offset":0.306,"color":"#000"},{"offset":0.3115,"color":"transparent"},{"offset":0.315,"color":"transparent"},
{"offset":0.315,"color":"#000"},{"offset":0.3205,"color":"transparent"},{"offset":0.324,"color":"transparent"},
{"offset":0.324,"color":"#000"},{"offset":0.3295,"color":"transparent"},{"offset":0.333,"color":"transparent"},
{"offset":0.333,"color":"#000"},{"offset":0.3385,"color":"transparent"},{"offset":0.342,"color":"transparent"},
{"offset":0.342,"color":"#000"},{"offset":0.3475,"color":"transparent"},{"offset":0.351,"color":"transparent"},
{"offset":0.351,"color":"#000"},{"offset":0.3565,"color":"transparent"},{"offset":0.36,"color":"transparent"},
{"offset":0.36,"color":"#000"},{"offset":0.3655,"color":"transparent"},{"offset":0.369,"color":"transparent"},
{"offset":0.369,"color":"#000"},{"offset":0.3745,"color":"transparent"},{"offset":0.378,"color":"transparent"},
{"offset":0.378,"color":"#000"},{"offset":0.3835,"color":"transparent"},{"offset":0.387,"color":"transparent"},
{"offset":0.387,"color":"#000"},{"offset":0.3925,"color":"transparent"},{"offset":0.396,"color":"transparent"},
{"offset":0.396,"color":"#000"},{"offset":0.4015,"color":"transparent"},{"offset":0.405,"color":"transparent"},
{"offset":0.405,"color":"#000"},{"offset":0.4105,"color":"transparent"},{"offset":0.414,"color":"transparent"},
{"offset":0.414,"color":"#000"},{"offset":0.4195,"color":"transparent"},{"offset":0.423,"color":"transparent"},
{"offset":0.423,"color":"#000"},{"offset":0.4285,"color":"transparent"},{"offset":0.432,"color":"transparent"},
{"offset":0.432,"color":"#000"},{"offset":0.4375,"color":"transparent"},{"offset":0.441,"color":"transparent"},
{"offset":0.441,"color":"#000"},{"offset":0.4465,"color":"transparent"},{"offset":0.45,"color":"transparent"},
{"offset":0.45,"color":"#000"},{"offset":0.4555,"color":"transparent"},{"offset":0.459,"color":"transparent"},
{"offset":0.459,"color":"#000"},{"offset":0.4645,"color":"transparent"},{"offset":0.468,"color":"transparent"},
{"offset":0.468,"color":"#000"},{"offset":0.4735,"color":"transparent"},{"offset":0.477,"color":"transparent"},
{"offset":0.477,"color":"#000"},{"offset":0.4825,"color":"transparent"},{"offset":0.486,"color":"transparent"},
{"offset":0.486,"color":"#000"},{"offset":0.4915,"color":"transparent"},{"offset":0.495,"color":"transparent"},
{"offset":0.495,"color":"#000"},{"offset":0.5005,"color":"transparent"},{"offset":0.504,"color":"transparent"},
{"offset":0.504,"color":"#000"},{"offset":0.5095,"color":"transparent"},{"offset":0.513,"color":"transparent"},
{"offset":0.513,"color":"#000"},{"offset":0.5185,"color":"transparent"},{"offset":0.522,"color":"transparent"},
{"offset":0.522,"color":"#000"},{"offset":0.5275,"color":"transparent"},{"offset":0.531,"color":"transparent"},
{"offset":0.531,"color":"#000"},{"offset":0.5365,"color":"transparent"},{"offset":0.54,"color":"transparent"},
{"offset":0.54,"color":"#000"},{"offset":0.5455,"color":"transparent"},{"offset":0.549,"color":"transparent"},
{"offset":0.549,"color":"#000"},{"offset":0.5545,"color":"transparent"},{"offset":0.558,"color":"transparent"},
{"offset":0.558,"color":"#000"},{"offset":0.5635,"color":"transparent"},{"offset":0.567,"color":"transparent"},
{"offset":0.567,"color":"#000"},{"offset":0.5725,"color":"transparent"},{"offset":0.576,"color":"transparent"},
{"offset":0.576,"color":"#000"},{"offset":0.5815,"color":"transparent"},{"offset":0.585,"color":"transparent"},
{"offset":0.585,"color":"#000"},{"offset":0.5905,"color":"transparent"},{"offset":0.594,"color":"transparent"},
{"offset":0.594,"color":"#000"},{"offset":0.5995,"color":"transparent"},{"offset":0.603,"color":"transparent"},
{"offset":0.603,"color":"#000"},{"offset":0.6085,"color":"transparent"},{"offset":0.612,"color":"transparent"},
{"offset":0.612,"color":"#000"},{"offset":0.6175,"color":"transparent"},{"offset":0.621,"color":"transparent"},
{"offset":0.621,"color":"#000"},{"offset":0.6265,"color":"transparent"},{"offset":0.63,"color":"transparent"},
{"offset":0.63,"color":"#000"},{"offset":0.6355,"color":"transparent"},{"offset":0.639,"color":"transparent"},
{"offset":0.639,"color":"#000"},{"offset":0.6445,"color":"transparent"},{"offset":0.648,"color":"transparent"},
{"offset":0.648,"color":"#000"},{"offset":0.6535,"color":"transparent"},{"offset":0.657,"color":"transparent"},
{"offset":0.657,"color":"#000"},{"offset":0.6625,"color":"transparent"},{"offset":0.666,"color":"transparent"},
{"offset":0.666,"color":"#000"},{"offset":0.6715,"color":"transparent"},{"offset":0.675,"color":"transparent"},
{"offset":0.675,"color":"#000"},{"offset":0.6805,"color":"transparent"},{"offset":0.684,"color":"transparent"},
{"offset":0.684,"color":"#000"},{"offset":0.6895,"color":"transparent"},{"offset":0.693,"color":"transparent"},
{"offset":0.693,"color":"#000"},{"offset":0.6985,"color":"transparent"},{"offset":0.702,"color":"transparent"},
{"offset":0.702,"color":"#000"},{"offset":0.7075,"color":"transparent"},{"offset":0.711,"color":"transparent"},
{"offset":0.711,"color":"#000"},{"offset":0.7165,"color":"transparent"},{"offset":0.72,"color":"transparent"},
{"offset":0.72,"color":"#000"},{"offset":0.7255,"color":"transparent"},{"offset":0.729,"color":"transparent"},
{"offset":0.729,"color":"#000"},{"offset":0.7345,"color":"transparent"},{"offset":0.738,"color":"transparent"},
{"offset":0.738,"color":"#000"},{"offset":0.7435,"color":"transparent"},{"offset":0.747,"color":"transparent"},
{"offset":0.747,"color":"#000"},{"offset":0.7525,"color":"transparent"},{"offset":0.756,"color":"transparent"},
{"offset":0.756,"color":"#000"},{"offset":0.7615,"color":"transparent"},{"offset":0.765,"color":"transparent"},
{"offset":0.765,"color":"#000"},{"offset":0.7705,"color":"transparent"},{"offset":0.774,"color":"transparent"},
{"offset":0.774,"color":"#000"},{"offset":0.7795,"color":"transparent"},{"offset":0.783,"color":"transparent"},
{"offset":0.783,"color":"#000"},{"offset":0.7885,"color":"transparent"},{"offset":0.792,"color":"transparent"},
{"offset":0.792,"color":"#000"},{"offset":0.7975,"color":"transparent"},{"offset":0.801,"color":"transparent"},
{"offset":0.801,"color":"#000"},{"offset":0.8065,"color":"transparent"},{"offset":0.81,"color":"transparent"},
{"offset":0.81,"color":"#000"},{"offset":0.8155,"color":"transparent"},{"offset":0.819,"color":"transparent"},
{"offset":0.819,"color":"#000"},{"offset":0.8245,"color":"transparent"},{"offset":0.828,"color":"transparent"},
{"offset":0.828,"color":"#000"},{"offset":0.8335,"color":"transparent"},{"offset":0.837,"color":"transparent"},
{"offset":0.837,"color":"#000"},{"offset":0.8425,"color":"transparent"},{"offset":0.846,"color":"transparent"},
{"offset":0.846,"color":"#000"},{"offset":0.8515,"color":"transparent"},{"offset":0.855,"color":"transparent"},
{"offset":0.855,"color":"#000"},{"offset":0.8605,"color":"transparent"},{"offset":0.864,"color":"transparent"},
{"offset":0.864,"color":"#000"},{"offset":0.8695,"color":"transparent"},{"offset":0.873,"color":"transparent"},
{"offset":0.873,"color":"#000"},{"offset":0.8785,"color":"transparent"},{"offset":0.882,"color":"transparent"},
{"offset":0.882,"color":"#000"},{"offset":0.8875,"color":"transparent"},{"offset":0.891,"color":"transparent"},
{"offset":0.891,"color":"#000"},{"offset":0.8965,"color":"transparent"},{"offset":0.9,"color":"transparent"},
{"offset":0.9,"color":"#000"},{"offset":0.9055,"color":"transparent"},{"offset":0.909,"color":"transparent"},
{"offset":0.909,"color":"#000"},{"offset":0.9145,"color":"transparent"},{"offset":0.918,"color":"transparent"},
{"offset":0.918,"color":"#000"},{"offset":0.9235,"color":"transparent"},{"offset":0.927,"color":"transparent"},
{"offset":0.927,"color":"#000"},{"offset":0.9325,"color":"transparent"},{"offset":0.936,"color":"transparent"},
{"offset":0.936,"color":"#000"},{"offset":0.9415,"color":"transparent"},{"offset":0.945,"color":"transparent"},
{"offset":0.945,"color":"#000"},{"offset":0.9505,"color":"transparent"},{"offset":0.954,"color":"transparent"},
{"offset":0.954,"color":"#000"},{"offset":0.9595,"color":"transparent"},{"offset":0.963,"color":"transparent"},
{"offset":0.963,"color":"#000"},{"offset":0.9685,"color":"transparent"},{"offset":0.972,"color":"transparent"},
{"offset":0.972,"color":"#000"},{"offset":0.9775,"color":"transparent"},{"offset":0.981,"color":"transparent"},
{"offset":0.981,"color":"#000"},{"offset":0.9865,"color":"transparent"},{"offset":0.99,"color":"transparent"},
{"offset":0.99,"color":"#000"},{"offset":0.9955,"color":"transparent"},{"offset":1,"color":"transparent"}
]}},
"encoding": {
"x": {"field": "mass", "type": "quantitative", "scale": {"type": "linear", "domain": [0, 250], "range": [103, 884], "nice": false, "zero": false}, "axis": null},
"y": {"field": "jets", "type": "quantitative", "scale": {"type": "log", "domain": [0.00795, 0.473], "range": [757, 11], "nice": false, "clamp": true}},
"y2": {"datum": 0.00795}
}
},
{
"transform": [{"fold": ["lo", "hi"], "as": ["edge", "mass"]}],
"mark": {"type": "line", "interpolate": "linear", "stroke": "#000000", "strokeWidth": 3, "strokeJoin": "miter", "invalid": "show"},
"encoding": {
"x": {"field": "mass", "type": "quantitative", "scale": {"type": "linear", "domain": [0, 250], "range": [103, 884], "nice": false, "zero": false}, "axis": null},
"y": {"field": "total", "type": "quantitative", "scale": {"type": "log", "domain": [0.00795, 0.473], "range": [757, 11], "nice": false, "clamp": true}}
}
},
{
"data": {"values": [{}]},
"mark": {"type": "rect", "filled": false, "stroke": "#000000", "strokeWidth": 1.5},
"encoding": {
"x": {"datum": 0, "type": "quantitative", "scale": {"type": "linear", "domain": [0, 250], "range": [103, 884], "nice": false, "zero": false},
 "axis": {"orient": "bottom", "values": [10,20,30,40,60,70,80,90,110,120,130,140,160,170,180,190,210,220,230,240], "tickSize": -13, "tickColor": "#000000", "tickWidth": 1.2, "labels": false, "title": null, "domain": false, "grid": false, "offset": -84, "zindex": 1}},
"x2": {"datum": 250},
"y": {"datum": 0.00795, "type": "quantitative", "scale": {"type": "log", "domain": [0.00795, 0.473], "range": [757, 11], "nice": false, "clamp": true}},
"y2": {"datum": 0.473}
}
},
{
"data": {"values": [{"sample": "Jets"}, {"sample": "W+Jets"}, {"sample": "WZ"}]},
"mark": {"type": "point", "filled": false, "color": "#111111", "opacity": 0},
"encoding": {
"shape": {"field": "sample", "type": "nominal",
 "scale": {"domain": ["Jets", "W+Jets", "WZ"], "range": [
 "M-1,0.8L-0.95,0.85M-1,0.5L-0.65,0.85M-1,0.2L-0.35,0.85M-1,-0.1L-0.05,0.85M-1,-0.4L0.25,0.85M-1,-0.7L0.55,0.85M-0.85,-0.85L0.85,0.85M-0.55,-0.85L1,0.7M-0.25,-0.85L1,0.4M0.05,-0.85L1,0.1M0.35,-0.85L1,-0.2M0.65,-0.85L1,-0.5M0.95,-0.85L1,-0.8M-0.95,-0.85L-1,-0.8M-0.65,-0.85L-1,-0.5M-0.35,-0.85L-1,-0.2M-0.05,-0.85L-1,0.1M0.25,-0.85L-1,0.4M0.55,-0.85L-1,0.7M0.85,-0.85L-0.85,0.85M1,-0.7L-0.55,0.85M1,-0.4L-0.25,0.85M1,-0.1L0.05,0.85M1,0.2L0.35,0.85M1,0.5L0.65,0.85M1,0.8L0.95,0.85",
 "M-1,0.8L-0.95,0.85M-1,0.5L-0.65,0.85M-1,0.2L-0.35,0.85M-1,-0.1L-0.05,0.85M-1,-0.4L0.25,0.85M-1,-0.7L0.55,0.85M-0.85,-0.85L0.85,0.85M-0.55,-0.85L1,0.7M-0.25,-0.85L1,0.4M0.05,-0.85L1,0.1M0.35,-0.85L1,-0.2M0.65,-0.85L1,-0.5M0.95,-0.85L1,-0.8",
 "M-1,-0.85H1V0.85H-1Z"]},
 "legend": {"title": null, "orient": "none", "legendX": 578, "legendY": 123.5, "padding": 0, "symbolSize": 2209, "symbolStrokeWidth": 1.3, "symbolStrokeColor": "#111111", "symbolFillColor": "transparent", "symbolOpacity": 1, "labelFont": "DejaVu Sans", "labelFontSize": 28, "labelFontWeight": "bold", "labelColor": "#000000", "labelOffset": 16, "labelLimit": 300, "rowPadding": 37.5,
  "encode": {"symbols": {"update": {"opacity": {"value": 1}, "strokeOpacity": {"value": 1}, "stroke": {"value": "#111111"}, "fill": {"value": "transparent"}}}}}
}
}
}
]
}
